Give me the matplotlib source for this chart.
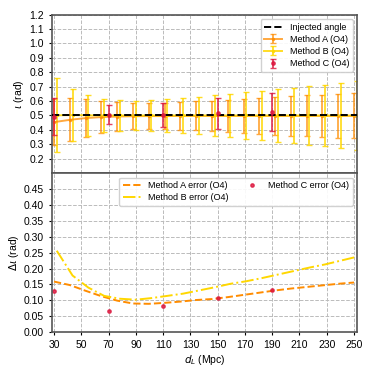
import numpy as np
import matplotlib
matplotlib.use("Agg")
import matplotlib.pyplot as plt

plt.rcParams['font.family'] = ['Liberation Sans', 'DejaVu Sans']
plt.rcParams['mathtext.fontset'] = 'dejavusans'

# distances (Mpc)
dist_a = [30.0, 41.58, 53.16, 64.74, 76.32, 87.89, 99.47, 111.05, 122.63, 134.21,
          145.79, 157.37, 168.95, 180.53, 192.11, 203.68, 215.26, 226.84, 238.42, 250.0]
dist_b = [32.0, 43.58, 55.16, 66.74, 78.32, 89.89, 101.47, 113.05, 124.63, 136.21,
          147.79, 159.37, 170.95, 182.53, 194.11, 205.68, 217.26, 228.84, 240.42, 252.0]
dist_c = [30, 70, 110, 150, 190]

# method A
iota_a = [0.454, 0.470, 0.482, 0.489, 0.493, 0.495, 0.496, 0.496, 0.497, 0.497,
          0.497, 0.497, 0.497, 0.497, 0.497, 0.497, 0.497, 0.497, 0.497, 0.497]
err_a = [0.159, 0.148, 0.130, 0.113, 0.099, 0.090, 0.089, 0.092, 0.096, 0.101,
         0.104, 0.110, 0.117, 0.124, 0.131, 0.137, 0.142, 0.147, 0.152, 0.156]

# method B
iota_b = [0.501, 0.503, 0.501, 0.500, 0.500, 0.500, 0.500, 0.500, 0.500, 0.500,
          0.500, 0.500, 0.500, 0.500, 0.500, 0.500, 0.500, 0.500, 0.500, 0.500]
err_b = [0.256, 0.178, 0.140, 0.114, 0.105, 0.102, 0.107, 0.114, 0.121, 0.131,
         0.141, 0.152, 0.160, 0.170, 0.181, 0.192, 0.203, 0.213, 0.225, 0.237]

# method C
iota_c = [0.493, 0.506, 0.503, 0.515, 0.526]
err_c = [0.130, 0.065, 0.081, 0.107, 0.132]

iota_true = 0.5

c_a = '#ff8c00'
c_b = '#ffd700'
c_c = '#dc143c'

fig = plt.figure(figsize=(3.74, 3.74), dpi=100)
ax1 = fig.add_axes([0.139, 0.537, 0.816, 0.424])
ax2 = fig.add_axes([0.139, 0.112, 0.816, 0.425], sharex=ax1)

ea = ax1.errorbar(dist_a, iota_a, yerr=err_a, color=c_a, ecolor=c_a, lw=1.4,
                  elinewidth=1.3, capsize=2, marker='o', ms=1.5, alpha=0.75,
                  label='Method A (O4)', zorder=2)
eb = ax1.errorbar(dist_b, iota_b, yerr=err_b, color=c_b, ecolor=c_b, lw=1.4,
                  elinewidth=1.3, capsize=2, marker='o', ms=1.5, alpha=0.85,
                  label='Method B (O4)', zorder=2)
inj = ax1.axhline(iota_true, color='k', ls='--', lw=1.4, label='Injected angle', zorder=3)
ec = ax1.errorbar(dist_c, iota_c, yerr=err_c, fmt='o', color=c_c, ecolor=c_c,
                  elinewidth=1.3, capsize=2, ms=2.4, alpha=0.8,
                  label='Method C (O4)', zorder=4)

ax1.legend(handles=[inj, ea, eb, ec], loc='upper right', fontsize=6.5,
           handlelength=2.0, borderpad=0.4, labelspacing=0.35, framealpha=0.9)
ax1.set_ylim(0.1, 1.2)
ax1.set_yticks(np.arange(0.2, 1.21, 0.1))
ax1.set_yticklabels(['%.1f' % v for v in np.arange(0.2, 1.21, 0.1)])
ax1.set_ylabel(r'$\iota$ (rad)', fontsize=7.5, labelpad=2)
plt.setp(ax1.get_xticklabels(), visible=False)

ax2.plot(dist_a, err_a, color=c_a, ls='--', lw=1.4, label='Method A error (O4)')
ax2.plot(dist_b, err_b, color=c_b, ls='-.', lw=1.4, label='Method B error (O4)')
ax2.plot(dist_c, err_c, 'o', color=c_c, ms=2.4, alpha=0.8, label='Method C error (O4)')
ax2.legend(loc='upper right', ncol=2, fontsize=6.5, handlelength=2.0,
           borderpad=0.4, labelspacing=0.35, columnspacing=1.6, framealpha=0.9)
ax2.set_ylim(0, 0.5)
ax2.set_yticks(np.arange(0, 0.46, 0.05))
ax2.set_yticklabels(['%.2f' % v for v in np.arange(0, 0.46, 0.05)])
ax2.set_ylabel(r'$\Delta\iota$ (rad)', fontsize=7.5, labelpad=2)
ax2.set_xlabel(r'$d_L$ (Mpc)', fontsize=7.5, labelpad=2)
ax2.set_xlim(28.5, 252.3)
ax2.set_xticks(range(30, 251, 20))

for ax in (ax1, ax2):
    ax.grid(True, ls='--', color='#bbbbbb', lw=0.7)
    ax.tick_params(labelsize=7.5, length=2.5, width=0.8)
    for s in ax.spines.values():
        s.set_color('#555555')
        s.set_linewidth(1.2)

fig.savefig('out.png', dpi=100)
